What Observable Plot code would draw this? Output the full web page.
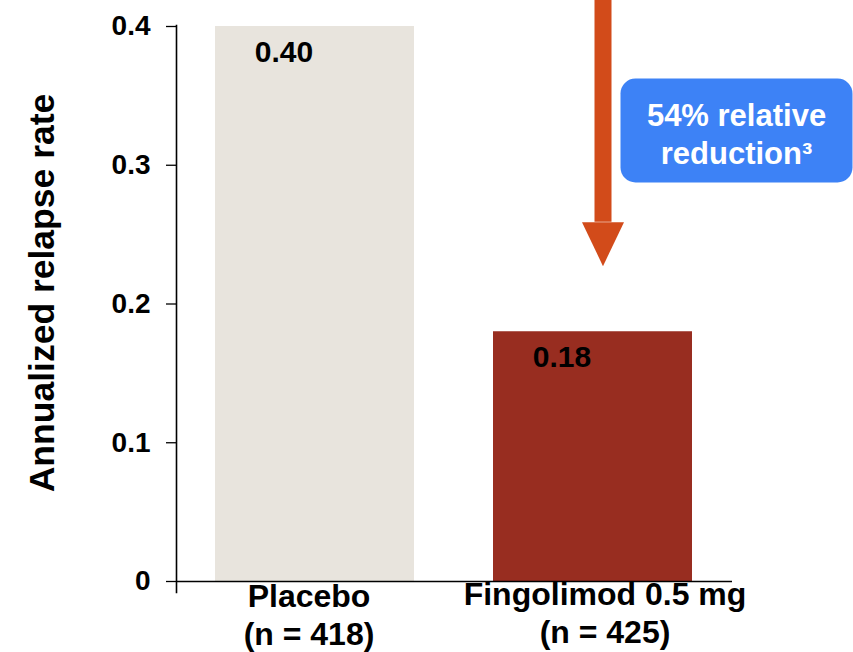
<!DOCTYPE html>
<html>
<head>
<meta charset="utf-8">
<script src="https://cdn.jsdelivr.net/npm/d3@7"></script>
<script src="https://cdn.jsdelivr.net/npm/@observablehq/plot@0.6"></script>
<style>
  html, body { margin: 0; padding: 0; background: #ffffff; }
  #chart svg { display: block; overflow: visible; }
</style>
</head>
<body>
<div id="chart"></div>
<script>
// Treatment groups and their annualized relapse rates
const groups = ["Placebo", "Fingolimod 0.5 mg"];
const groupSizes = ["(n = 418)", "(n = 425)"];
const rates = [0.40, 0.18];
const barColors = ["#e8e4dd", "#982d20"];

// Y axis ticks
const yTicks = [0, 0.1, 0.2, 0.3, 0.4];

// Reduction arrow (shaft runs from arrowFrom down to arrowTo, head below it)
const arrowFrom = [0.42];
const arrowTo = [0.259];
const calloutLines = ["54% relative", "reduction³"];

const data = groups.map((g, i) => ({
  group: g,
  n: groupSizes[i],
  rate: rates[i],
  color: barColors[i]
}));

const font = "Liberation Sans, Arial, Helvetica, sans-serif";
const orange = "#d24b1a";
const blue = "#3d82f6";

// Downward arrowhead, base at the anchor point
const arrowHead = {
  draw(ctx) {
    ctx.moveTo(-21, 0);
    ctx.lineTo(21, 0);
    ctx.lineTo(0, 44);
    ctx.closePath();
  }
};

// Rounded callout box centred on the anchor point
const calloutBox = {
  draw(ctx) {
    const w = 232, h = 104, r = 15;
    const x0 = -w / 2, y0 = -h / 2, x1 = w / 2, y1 = h / 2;
    ctx.moveTo(x0 + r, y0);
    ctx.lineTo(x1 - r, y0);
    ctx.arcTo(x1, y0, x1, y0 + r, r);
    ctx.lineTo(x1, y1 - r);
    ctx.arcTo(x1, y1, x1 - r, y1, r);
    ctx.lineTo(x0 + r, y1);
    ctx.arcTo(x0, y1, x0, y1 - r, r);
    ctx.lineTo(x0, y0 + r);
    ctx.arcTo(x0, y0, x0 + r, y0, r);
    ctx.closePath();
  }
};

const arrow = arrowFrom.map((f, i) => ({x: groups[1], from: f, to: arrowTo[i]}));

const chart = Plot.plot({
  width: 853,
  height: 652,
  marginLeft: 176,
  marginRight: 121,
  marginTop: 25,
  marginBottom: 60,
  style: {fontFamily: font, background: "#ffffff", color: "#000"},
  x: {domain: groups, paddingInner: 0.284, paddingOuter: 0.142, axis: null},
  y: {domain: [0, 0.4], range: [581, 26], axis: null},
  marks: [
    Plot.barY(data, {x: "group", y: "rate", fill: "color"}),
    // value labels inside the bars
    Plot.text(data, {
      x: "group", y: "rate", text: d => d.rate.toFixed(2),
      dx: -31, dy: 26, fontSize: 30, fontWeight: "bold", fill: "#000"
    }),
    // axes
    Plot.axisY({
      ticks: yTicks, tickSize: 10, tickPadding: 16,
      tickFormat: d => d === 0 ? "0" : d.toFixed(1),
      fontSize: 28, fontWeight: "bold", stroke: "#000", strokeWidth: 1.3,
      label: null
    }),
    Plot.frame({anchor: "left", stroke: "#000", strokeWidth: 1.6}),
    Plot.ruleY([0], {stroke: "#000", strokeWidth: 1.4}),
    // category labels
    Plot.text(data.slice(0, 1), {
      x: "group", y: () => 0, text: d => d.group + "\n" + d.n,
      lineAnchor: "top", dx: -6, dy: -1, lineHeight: 1.17,
      fontSize: 32, fontWeight: "bold", fill: "#000"
    }),
    Plot.text(data.slice(1), {
      x: "group", y: () => 0, text: d => d.group + "\n" + d.n,
      lineAnchor: "top", dx: 12, dy: -4, lineHeight: 1.2,
      fontSize: 32, fontWeight: "bold", fill: "#000"
    }),
    // y axis title
    Plot.text(["Annualized relapse rate"], {
      frameAnchor: "left", textAnchor: "middle", lineAnchor: "middle",
      rotate: -90, dx: -134, dy: -16,
      fontSize: 35.5, fontWeight: "bold", fill: "#000"
    }),
    // reduction arrow
    Plot.ruleX(arrow, {
      x: "x", y1: "from", y2: "to", dx: 10,
      stroke: orange, strokeWidth: 17, strokeLinecap: "butt"
    }),
    Plot.dot(arrow, {
      x: "x", y: "to", dx: 10, symbol: arrowHead, fill: orange, stroke: null
    }),
    // callout
    Plot.dot([0], {
      frameAnchor: "top-right", dx: 4, dy: 105,
      symbol: calloutBox, fill: blue, stroke: null
    }),
    Plot.text([calloutLines.join("\n")], {
      frameAnchor: "top-right", dx: 4, dy: 107,
      textAnchor: "middle", lineAnchor: "middle",
      lineHeight: 1.22, fontSize: 31, fontWeight: "bold", fill: "#ffffff"
    })
  ]
});

document.getElementById("chart").appendChild(chart);
</script>
</body>
</html>
